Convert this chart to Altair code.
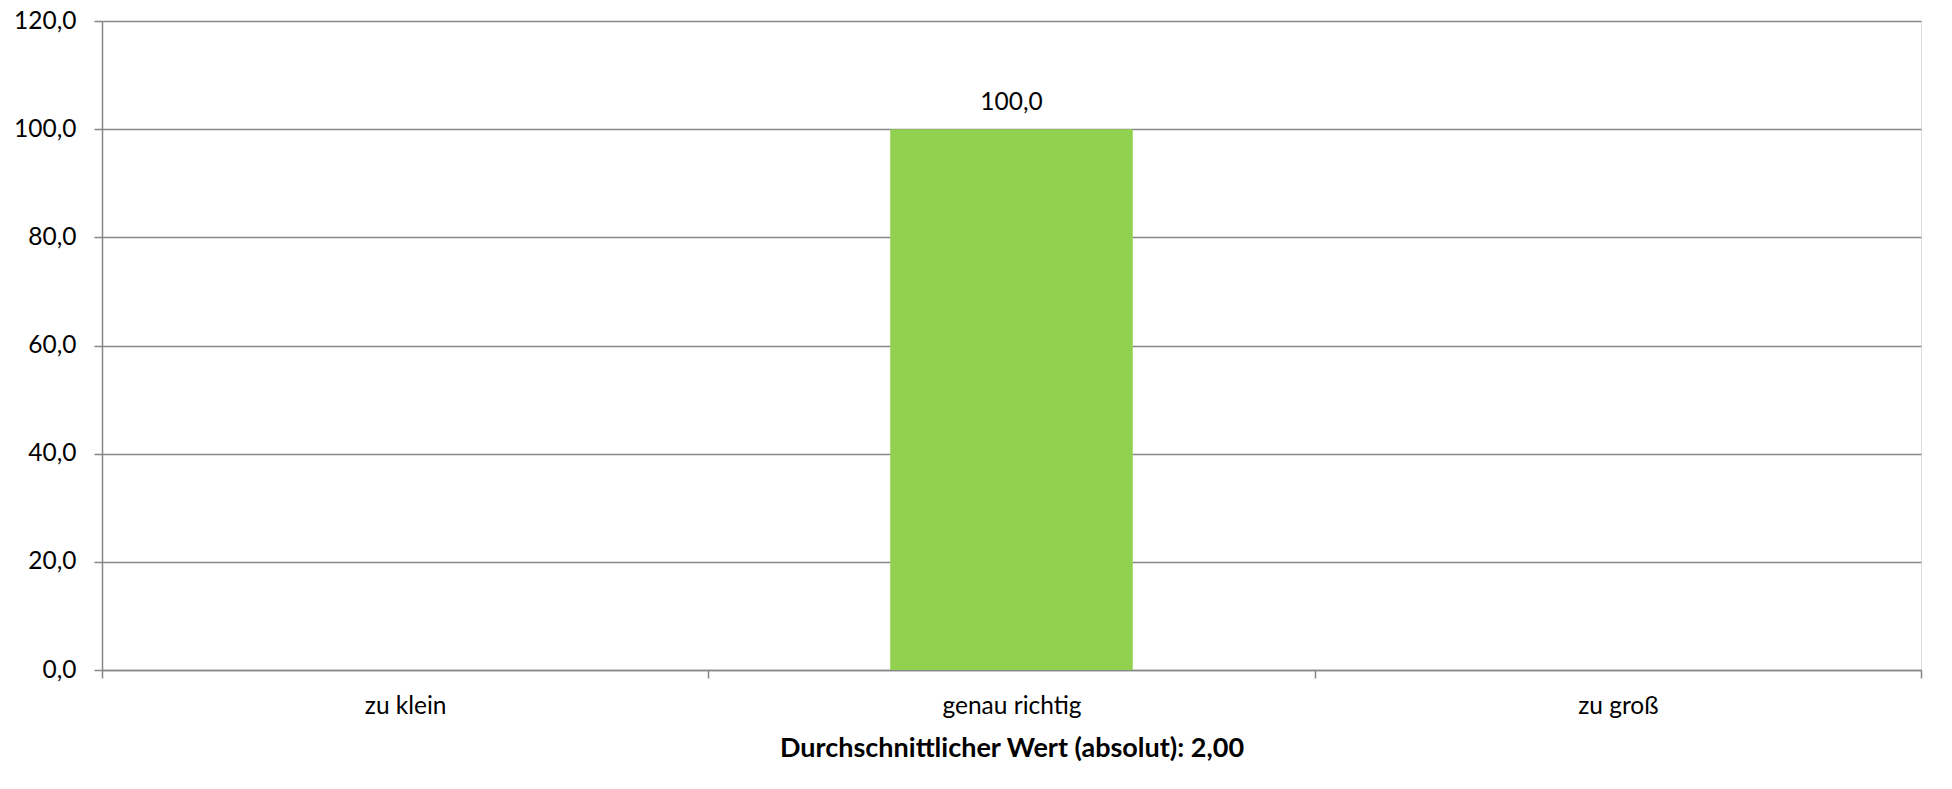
import altair as alt
import pandas as pd

categories = ["zu klein", "genau richtig", "zu groß"]
values = [0.0, 100.0, 0.0]
y_ticks = [0, 20, 40, 60, 80, 100, 120]
x_title = "Durchschnittlicher Wert (absolut): 2,00"

df = pd.DataFrame({"Kategorie": categories, "Wert": values})

FONT = "Lato"
GRAY = "#878787"
FS = 24.5

base = alt.Chart(df).encode(
    x=alt.X(
        "Kategorie:N",
        sort=categories,
        scale=alt.Scale(paddingInner=0, paddingOuter=0),
        axis=alt.Axis(
            title=x_title,
            labelAngle=0,
            tickBand="extent",
            tickSize=8,
            tickColor=GRAY,
            tickWidth=1.5,
            domainColor=GRAY,
            domainWidth=1.5,
            grid=False,
            labelPadding=16,
            labelFont=FONT,
            labelFontSize=FS,
            labelColor="#000000",
            titleFont=FONT,
            titleFontSize=27,
            titleFontWeight="bold",
            titleColor="#000000",
            titleBaseline="alphabetic",
            titleY=86,
        ),
    ),
)

bars = base.mark_bar(color="#92D050", width=alt.RelativeBandSize(0.4)).encode(
    y=alt.Y(
        "Wert:Q",
        scale=alt.Scale(domain=[0, 120], nice=False),
        axis=alt.Axis(
            title=None,
            values=y_ticks,
            labelExpr="replace(format(datum.value, '.1f'), '.', ',')",
            grid=True,
            gridColor=GRAY,
            gridWidth=1.5,
            tickSize=8,
            tickColor=GRAY,
            tickWidth=1.5,
            domainColor=GRAY,
            domainWidth=1.5,
            labelPadding=18,
            labelFont=FONT,
            labelFontSize=FS,
            labelColor="#000000",
        ),
    )
)

labels = base.transform_filter("datum.Wert > 0").transform_calculate(
    txt="replace(format(datum.Wert, '.1f'), '.', ',')"
).mark_text(
    baseline="alphabetic", dy=-19, font=FONT, fontSize=FS, color="#000000"
).encode(
    y=alt.Y("Wert:Q"),
    text="txt:N",
)

chart = alt.layer(bars, labels).properties(
    width=1819,
    height=649,
    autosize=alt.AutoSizeParams(type="none"),
    padding={"left": 94, "top": 13, "right": 20, "bottom": 110},
).configure_view(stroke=None).configure(background="white")

chart.save("out.html", embed_options={"renderer": "svg", "actions": False})
